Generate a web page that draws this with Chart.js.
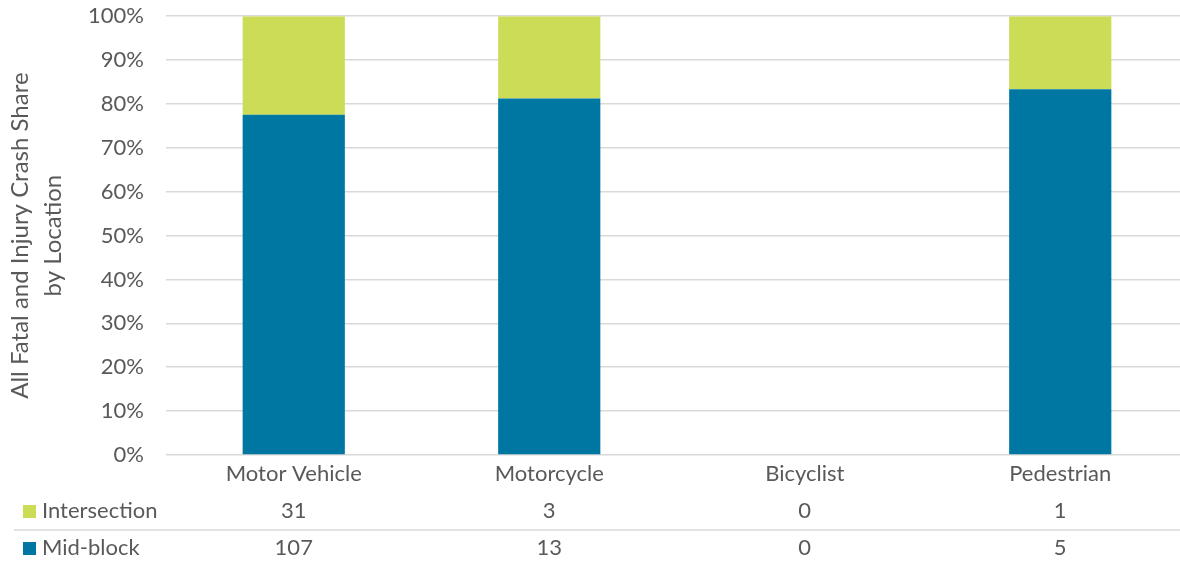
<!DOCTYPE html>
<html>
<head>
<meta charset="utf-8">
<script src="https://cdn.jsdelivr.net/npm/chart.js@4"></script>
<style>
  html, body { margin: 0; padding: 0; background: #fff; overflow: hidden; }
  #wrap { width: 1188px; height: 562px; overflow: hidden; }
  #crashChart { margin-top: -19px; display: block; }
</style>
</head>
<body>
<div id="wrap"><canvas id="crashChart" width="1188" height="581"></canvas></div>
<script>
// crash counts by road user and location
const categories = ['Motor Vehicle', 'Motorcycle', 'Bicyclist', 'Pedestrian'];
const intersection = [31, 3, 0, 1];
const midBlock = [107, 13, 0, 5];

const GREEN = '#cddc56';
const BLUE = '#0077a3';
const TEXT = '#595959';
const GRID = '#d9d9d9';
const FONT = 'Lato, "Open Sans", sans-serif';
const SIZE = 22;

// share of each location within a category (0 when there are no crashes)
function share(part, other) {
  return part.map((v, i) => {
    const total = v + other[i];
    return total ? v / total * 100 : 0;
  });
}
const midShare = share(midBlock, intersection);
const intShare = share(intersection, midBlock);

// data table under the x axis: legend key + counts per category
const dataTable = {
  id: 'dataTable',
  afterDraw(chart) {
    const ctx = chart.ctx;
    const x = chart.scales.x;
    const base = chart.chartArea.bottom;
    const rows = [
      { label: 'Intersection', color: GREEN, values: intersection, y: base + 56 },
      { label: 'Mid-block', color: BLUE, values: midBlock, y: base + 93 }
    ];
    ctx.save();
    ctx.strokeStyle = GRID;
    ctx.lineWidth = 1.5;
    ctx.beginPath();
    ctx.moveTo(14, base + 75);
    ctx.lineTo(chart.width, base + 75);
    ctx.stroke();

    ctx.font = SIZE + 'px ' + FONT;
    ctx.textBaseline = 'middle';
    rows.forEach(r => {
      ctx.fillStyle = r.color;
      ctx.fillRect(23, r.y - 6, 13, 13);
      ctx.fillStyle = TEXT;
      ctx.textAlign = 'left';
      ctx.fillText(r.label, 42, r.y);
      ctx.textAlign = 'center';
      r.values.forEach((v, i) => {
        ctx.fillText(String(v), x.getPixelForValue(i), r.y);
      });
    });
    ctx.restore();
  }
};

new Chart(document.getElementById('crashChart'), {
  type: 'bar',
  data: {
    labels: categories,
    datasets: [
      { label: 'Mid-block', data: midShare, backgroundColor: BLUE },
      { label: 'Intersection', data: intShare, backgroundColor: GREEN }
    ]
  },
  options: {
    responsive: false,
    animation: false,
    devicePixelRatio: 1,
    layout: { padding: 0 },
    datasets: {
      bar: { barPercentage: 0.4, categoryPercentage: 1.0 }
    },
    plugins: {
      legend: { display: false },
      tooltip: { enabled: false }
    },
    scales: {
      x: {
        stacked: true,
        grid: { display: false, drawTicks: false },
        border: { display: false },
        ticks: { color: TEXT, font: { family: FONT, size: SIZE }, padding: 6, maxRotation: 0 },
        afterFit(scale) { scale.height = 107; }
      },
      y: {
        stacked: true,
        min: 0,
        max: 100,
        grid: { color: GRID, lineWidth: 1.5, drawTicks: false },
        border: { display: false },
        ticks: {
          stepSize: 10,
          color: TEXT,
          font: { family: FONT, size: SIZE },
          padding: 22,
          callback: v => v + '%'
        },
        title: {
          display: true,
          text: ['All Fatal and Injury Crash Share', 'by Location'],
          color: TEXT,
          font: { family: FONT, size: 24, lineHeight: 1.375 },
          padding: { top: 4, bottom: 0 }
        },
        afterFit(scale) { scale.width = 166; }
      }
    }
  },
  plugins: [dataTable]
});
</script>
</body>
</html>
